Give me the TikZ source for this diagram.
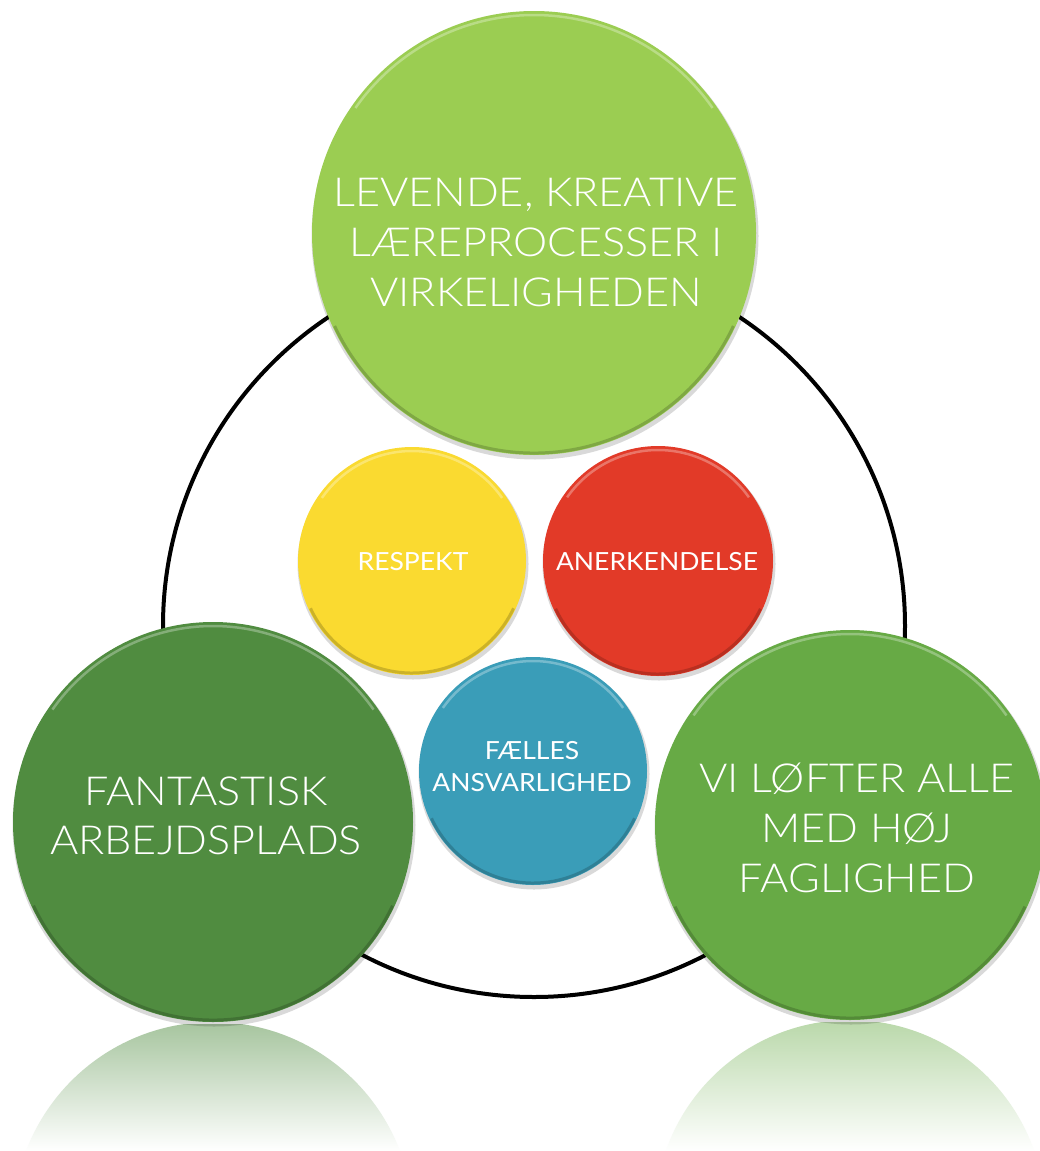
\documentclass[tikz,border=0pt]{standalone}
\usepackage{fontspec}
\newfontfamily\lightfont{Lato Light}[FakeStretch=1.08]
\newfontfamily\regfont{Lato}[FakeStretch=1.06]
\definecolor{gTop}{RGB}{155,205,82}
\definecolor{gLeft}{RGB}{80,140,64}
\definecolor{gRight}{RGB}{103,170,69}
\definecolor{cYel}{RGB}{250,218,48}
\definecolor{cRed}{RGB}{226,58,40}
\definecolor{cBlue}{RGB}{58,157,184}
\newcommand\bubble[5]{%
  \fill[black,opacity=.15] (#2+1,#3-3) circle ({#4+1.5});
  \node[disc={2*#4pt}, fill=#5] (#1) at (#2,#3) {};
  \draw[white, opacity=.3, line width=2.5pt] (#1.center) ++(35:{#4-4}) arc (35:145:{#4-4});
  \draw[black, opacity=.18, line width=3pt] (#1.center) ++(205:{#4-2}) arc (205:335:{#4-2});
}
\begin{document}
\begin{tikzpicture}[x=1pt,y=1pt,
  disc/.style={circle, inner sep=0pt, minimum size=#1},
  lbl/.style={text=white, align=center, inner sep=0pt},
]
\useasboundingbox (0,0) rectangle (1040,-1151);
\clip (0,0) rectangle (1040,-1151);
\fill[white] (0,0) rectangle (1040,-1151);
% reflections
\begin{scope}
  \clip (213,-1222) circle (200);
  \shade[top color=gLeft!50!white, bottom color=white] (0,-1024) rectangle (440,-1151);
\end{scope}
\begin{scope}
  \clip (850,-1215) circle (195);
  \shade[top color=gRight!45!white, bottom color=white] (640,-1022) rectangle (1040,-1151);
\end{scope}
% ring
\node[circle, draw=black, line width=4pt, minimum size=742pt, inner sep=0pt] (ring) at (534,-626) {};
% bubbles
\bubble{top}{534}{-233}{222}{gTop}
\bubble{yel}{412}{-561}{114}{cYel}
\bubble{red}{658}{-561}{115}{cRed}
\bubble{blue}{533}{-771}{114}{cBlue}
\bubble{left}{213}{-822}{200}{gLeft}
\bubble{right}{850}{-825}{195}{gRight}
% labels
\node[lbl, font=\lightfont\fontsize{40}{50}\selectfont] (topT) at (536,-243) {LEVENDE, KREATIVE\\LÆREPROCESSER I\\VIRKELIGHEDEN};
\node[lbl, font=\lightfont\fontsize{40}{49}\selectfont] (leftT) at (206,-816) {FANTASTISK\\ARBEJDSPLADS};
\node[lbl, font=\lightfont\fontsize{40}{50}\selectfont] (rightT) at (857,-828) {VI LØFTER ALLE\\MED HØJ\\FAGLIGHED};
\node[lbl, font=\regfont\fontsize{25}{32}\selectfont] (yelT) at (413,-562) {RESPEKT};
\node[lbl, font=\regfont\fontsize{25}{32}\selectfont] (redT) at (657,-562) {ANERKENDELSE};
\node[lbl, font=\regfont\fontsize{25}{32}\selectfont] (blueT) at (532,-767) {FÆLLES\\ANSVARLIGHED};
\end{tikzpicture}
\end{document}
